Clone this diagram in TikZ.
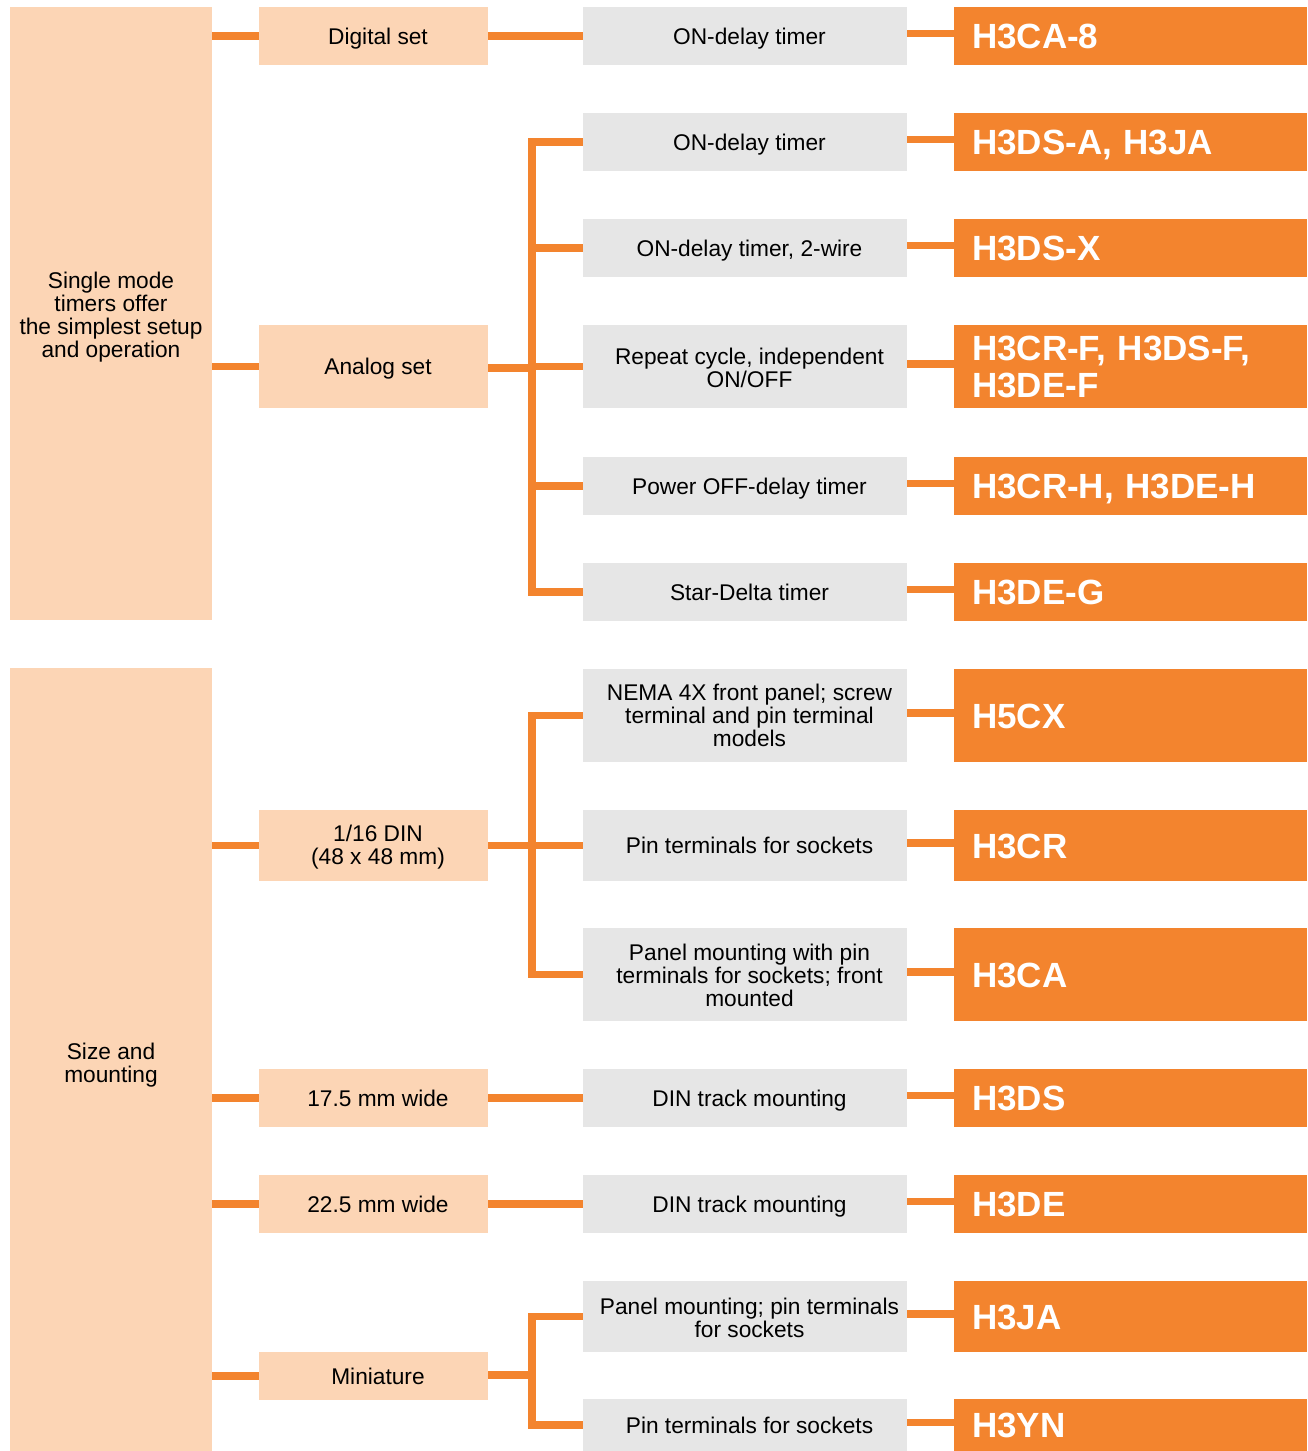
\documentclass[tikz,border=0pt]{standalone}
\usepackage{fontspec}
\setmainfont{Liberation Sans}
\definecolor{peach}{RGB}{252,213,181}
\definecolor{lgray}{RGB}{230,230,230}
\definecolor{orng}{RGB}{243,132,46}
\begin{document}
\begin{tikzpicture}[x=1pt,y=-1pt,
  base/.style={rectangle, inner sep=0pt},
  c1box/.style={base, fill=peach, minimum width=202pt},
  c2box/.style={base, fill=peach, minimum width=229pt},
  c3box/.style={base, fill=lgray, minimum width=324pt},
  txt/.style={inner sep=0pt, align=center, font=\fontsize{22.7}{23}\selectfont},
  one/.style={text height=16.2pt, text depth=0pt},
  c4box/.style={rectangle, fill=orng, minimum width=353pt, inner ysep=0pt, inner xsep=18pt,
     text width=317pt, align=left, text=white, font=\fontsize{35}{37}\selectfont\bfseries},
  c4one/.style={text height=25pt, text depth=0pt},
  conn/.style={draw=orng, line width=7.8pt, line join=miter}]
\useasboundingbox (0,0) rectangle (1307,1451);

% column 1
\node[c1box, minimum height=613pt] (a1) at (111,313.5) {};
\node[c1box, minimum height=783pt] (a2) at (111,1059.5) {};
\node[txt] (a1t) at ([yshift=-3.5pt]a1.center) {Single mode\\timers offer\\the simplest setup\\and operation};
\node[txt] (a2t) at ([yshift=-6pt]a2.center) {Size and\\mounting};

% column 2
\node[c2box, minimum height=58pt] (g1) at (373.5,36) {};
\node[c2box, minimum height=83pt] (g2) at (373.5,366.5) {};
\node[c2box, minimum height=71pt] (g3) at (373.5,845.5) {};
\node[c2box, minimum height=58pt] (g4) at (373.5,1098) {};
\node[c2box, minimum height=58pt] (g5) at (373.5,1204) {};
\node[c2box, minimum height=48pt] (g6) at (373.5,1376) {};
\node[txt,one] (g1t) at ([xshift=4.5pt]g1.center) {Digital set};
\node[txt,one] (g2t) at ([xshift=4.5pt]g2.center) {Analog set};
\node[txt] (g3t) at ([xshift=4.5pt,yshift=-2pt]g3.center) {1/16 DIN\\(48 x 48 mm)};
\node[txt,one] (g4t) at ([xshift=4.5pt]g4.center) {17.5 mm wide};
\node[txt,one] (g5t) at ([xshift=4.5pt]g5.center) {22.5 mm wide};
\node[txt,one] (g6t) at ([xshift=4.5pt]g6.center) {Miniature};

% column 3
\node[c3box, minimum height=58pt] (t1) at (745,36) {};
\node[c3box, minimum height=58pt] (t2) at (745,142) {};
\node[c3box, minimum height=58pt] (t3) at (745,248) {};
\node[c3box, minimum height=83pt] (t4) at (745,366.5) {};
\node[c3box, minimum height=58pt] (t5) at (745,486) {};
\node[c3box, minimum height=58pt] (t6) at (745,592) {};
\node[c3box, minimum height=93pt] (t7) at (745,715.5) {};
\node[c3box, minimum height=71pt] (t8) at (745,845.5) {};
\node[c3box, minimum height=93pt] (t9) at (745,974.5) {};
\node[c3box, minimum height=58pt] (t10) at (745,1098) {};
\node[c3box, minimum height=58pt] (t11) at (745,1204) {};
\node[c3box, minimum height=71pt] (t12) at (745,1316.5) {};
\node[c3box, minimum height=52pt] (t13) at (745,1425) {};
\node[txt,one] (t1t) at ([xshift=4.5pt]t1.center) {ON-delay timer};
\node[txt,one] (t2t) at ([xshift=4.5pt]t2.center) {ON-delay timer};
\node[txt,one] (t3t) at ([xshift=4.5pt]t3.center) {ON-delay timer, 2-wire};
\node[txt] (t4t) at ([xshift=4.5pt,yshift=-1pt]t4.center) {Repeat cycle, independent\\ON/OFF};
\node[txt,one] (t5t) at ([xshift=4.5pt]t5.center) {Power OFF-delay timer};
\node[txt,one] (t6t) at ([xshift=4.5pt]t6.center) {Star-Delta timer};
\node[txt] (t7t) at ([xshift=4.5pt]t7.center) {NEMA 4X front panel; screw\\terminal and pin terminal\\models};
\node[txt,one] (t8t) at ([xshift=4.5pt]t8.center) {Pin terminals for sockets};
\node[txt] (t9t) at ([xshift=4.5pt,yshift=-1pt]t9.center) {Panel mounting with pin\\terminals for sockets; front\\mounted};
\node[txt,one] (t10t) at ([xshift=4.5pt]t10.center) {DIN track mounting};
\node[txt,one] (t11t) at ([xshift=4.5pt]t11.center) {DIN track mounting};
\node[txt] (t12t) at ([xshift=4.5pt,yshift=-1pt]t12.center) {Panel mounting; pin terminals\\for sockets};
\node[txt,one] (t13t) at ([xshift=4.5pt]t13.center) {Pin terminals for sockets};

% column 4
\node[c4box, c4one, minimum height=58pt] (m1) at (1130.5,36) {H3CA-8};
\node[c4box, c4one, minimum height=58pt] (m2) at (1130.5,142) {H3DS-A, H3JA};
\node[c4box, c4one, minimum height=58pt] (m3) at (1130.5,248) {H3DS-X};
\node[c4box, minimum height=83pt] (m4) at (1130.5,366.5) {H3CR-F, H3DS-F,\\H3DE-F};
\node[c4box, c4one, minimum height=58pt] (m5) at (1130.5,486) {H3CR-H, H3DE-H};
\node[c4box, c4one, minimum height=58pt] (m6) at (1130.5,592) {H3DE-G};
\node[c4box, c4one, minimum height=93pt] (m7) at (1130.5,715.5) {H5CX};
\node[c4box, c4one, minimum height=71pt] (m8) at (1130.5,845.5) {H3CR};
\node[c4box, c4one, minimum height=93pt] (m9) at (1130.5,974.5) {H3CA};
\node[c4box, c4one, minimum height=58pt] (m10) at (1130.5,1098) {H3DS};
\node[c4box, c4one, minimum height=58pt] (m11) at (1130.5,1204) {H3DE};
\node[c4box, c4one, minimum height=71pt] (m12) at (1130.5,1316.5) {H3JA};
\node[c4box, c4one, minimum height=52pt] (m13) at (1130.5,1425) {H3YN};

\coordinate (bx) at (532,0);

% column 1 -> column 2
\foreach \g in {g1,g2} \draw[conn] (\g.west -| a1.east) -- (\g.west);
\foreach \g in {g3,g4,g5,g6} \draw[conn] (\g.west -| a2.east) -- (\g.west);

% column 2 -> column 3
\draw[conn] (g1.east) -- (g1.east -| t1.west);
\draw[conn] ([yshift=-1.5pt]g2.east) -- ([yshift=-1.5pt]g2.east -| bx);
\draw[conn] (t2.west) -- (t2.west -| bx) -- (t6.west -| bx) -- (t6.west);
\foreach \t in {t3,t4,t5} \draw[conn] (\t.west -| bx) -- (\t.west);
\draw[conn] (g3.east) -- (g3.east -| bx);
\draw[conn] (t7.west) -- (t7.west -| bx) -- (t9.west -| bx) -- (t9.west);
\draw[conn] (t8.west -| bx) -- (t8.west);
\draw[conn] ([yshift=1pt]g6.east) -- ([yshift=1pt]g6.east -| bx);
\draw[conn] (t12.west) -- (t12.west -| bx) -- (t13.west -| bx) -- (t13.west);
\draw[conn] (g4.east) -- (t10.west);
\draw[conn] (g5.east) -- (t11.west);

% column 3 -> column 4
\foreach \i in {1,...,13} \draw[conn] ([yshift=2.5pt]t\i.east) -- ([yshift=2.5pt]t\i.east -| m\i.west);
\end{tikzpicture}
\end{document}
